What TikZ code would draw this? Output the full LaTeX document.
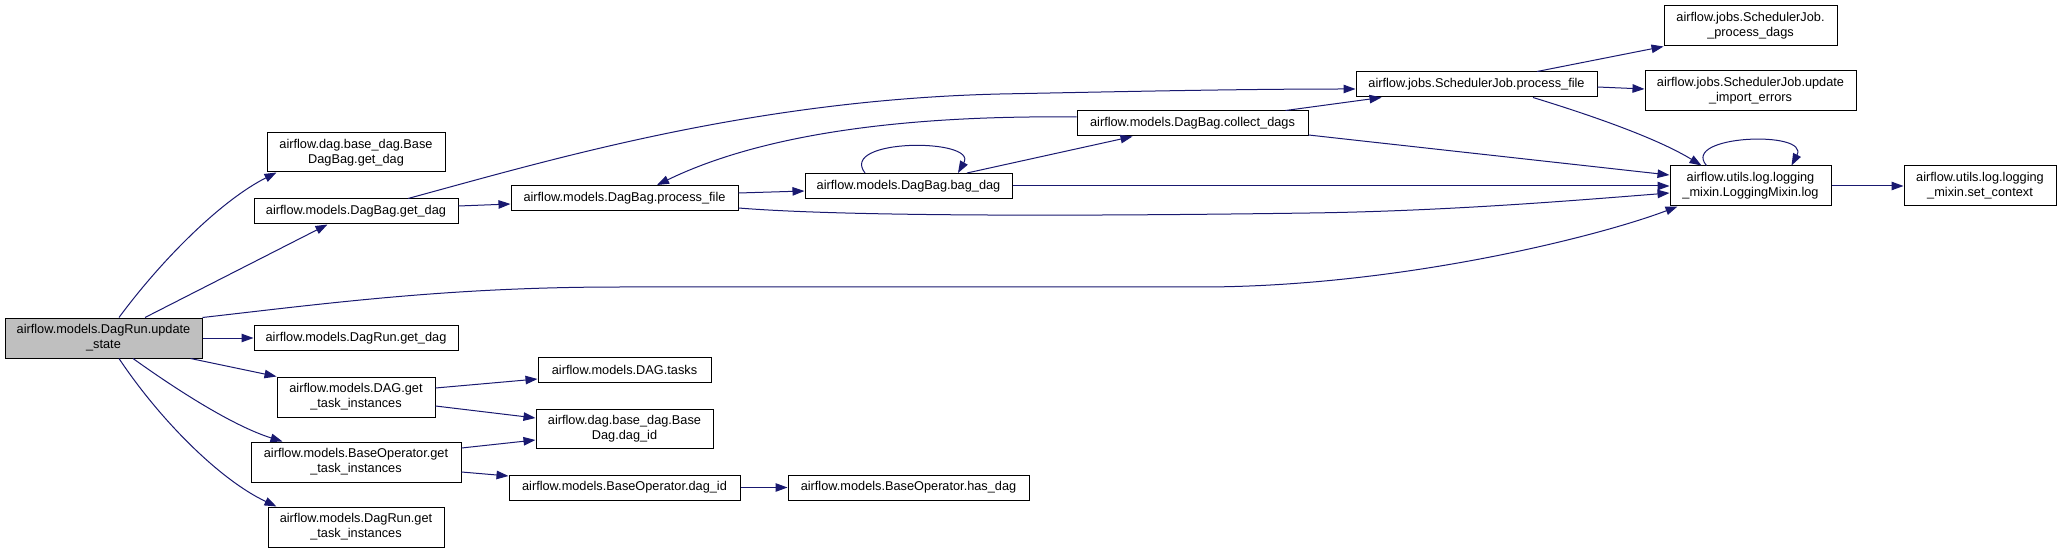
\documentclass[tikz,border=0pt]{standalone}
\usepackage{fontspec}
\setmainfont{Liberation Sans}
\usetikzlibrary{arrows.meta,calc}
\definecolor{edgeblue}{RGB}{25,25,112}
\definecolor{rootgray}{RGB}{191,191,191}
\begin{document}
\begin{tikzpicture}[x=1pt,y=-1pt,
  box/.style={draw=black, line width=1pt, fill=white, inner sep=0pt, align=center,
    font=\fontsize{12.75}{15}\selectfont},
  call/.style={draw=edgeblue, line width=1pt, -{Triangle[length=12pt,width=8.5pt]}}]
\fill[white] (0,0) rectangle (2061,553);
\useasboundingbox (0,0) rectangle (2061,553);

% nodes
\node[box, fill=rootgray, minimum width=197pt, minimum height=40pt] (us) at (103.5,338) {airflow.models.DagRun.update\\\_state};
\node[box, minimum width=178pt, minimum height=39pt] (bdg) at (356,152.5) {airflow.dag.base\_dag.Base\\DagBag.get\_dag};
\node[box, minimum width=204pt, minimum height=25pt] (dbg) at (356,211.5) {airflow.models.DagBag.get\_dag};
\node[box, minimum width=204pt, minimum height=25pt] (drg) at (356,338) {airflow.models.DagRun.get\_dag};
\node[box, minimum width=158pt, minimum height=40pt] (dgti) at (356,397) {airflow.models.DAG.get\\\_task\_instances};
\node[box, minimum width=210pt, minimum height=40pt] (bogti) at (356,462) {airflow.models.BaseOperator.get\\\_task\_instances};
\node[box, minimum width=176pt, minimum height=40pt] (drgti) at (356,527) {airflow.models.DagRun.get\\\_task\_instances};
\node[box, minimum width=227pt, minimum height=25pt] (pf) at (624.5,198) {airflow.models.DagBag.process\_file};
\node[box, minimum width=173pt, minimum height=25pt] (tasks) at (624.5,369.5) {airflow.models.DAG.tasks};
\node[box, minimum width=177pt, minimum height=39pt] (bdid) at (624.5,428.5) {airflow.dag.base\_dag.Base\\Dag.dag\_id};
\node[box, minimum width=231pt, minimum height=25pt] (bodid) at (624.5,487.5) {airflow.models.BaseOperator.dag\_id};
\node[box, minimum width=207pt, minimum height=25pt] (bag) at (908.5,186) {airflow.models.DagBag.bag\_dag};
\node[box, minimum width=241pt, minimum height=25pt] (hasdag) at (908.5,487.5) {airflow.models.BaseOperator.has\_dag};
\node[box, minimum width=231pt, minimum height=25pt] (cd) at (1192.5,123.5) {airflow.models.DagBag.collect\_dags};
\node[box, minimum width=241pt, minimum height=25pt] (sjpf) at (1476.5,84.5) {airflow.jobs.SchedulerJob.process\_file};
\node[box, minimum width=161pt, minimum height=40pt] (log) at (1750.5,186) {airflow.utils.log.logging\\\_mixin.LoggingMixin.log};
\node[box, minimum width=173pt, minimum height=40pt] (pd) at (1750.5,26) {airflow.jobs.SchedulerJob.\\\_process\_dags};
\node[box, minimum width=211pt, minimum height=40pt] (uie) at (1750.5,91) {airflow.jobs.SchedulerJob.update\\\_import\_errors};
\node[box, minimum width=152pt, minimum height=40pt] (sc) at (1980,186) {airflow.utils.log.logging\\\_mixin.set\_context};

% connectors
\draw[call] ($(us.north)+(15.5,0)$) .. controls (163,258) and (222,200) .. ($(bdg.south west)+(10,0)$);
\draw[call] ($(us.north)+(41.5,0)$) -- ($(dbg.south west)+(74,0)$);
\draw[call] (us.north east) .. controls (330,303) and (450,287) .. (620,287) -- (1200,287)
   .. controls (1400,287) and (1600,236) .. ($(log.south west)+(8,0)$);
\draw[call] (us.east) -- (drg.west);
\draw[call] ($(us.south east)+(-12,0)$) -- (dgti.north west);
\draw[call] ($(us.south)+(29.5,0)$) .. controls (170,385) and (230,425) .. ($(bogti.north west)+(32,0)$);
\draw[call] ($(us.south)+(15.5,0)$) .. controls (160,420) and (220,480) .. ($(drgti.north west)+(9,0)$);

\draw[call] ($(dbg.east)+(0,-5.5)$) -- ($(pf.west)+(0,6)$);
\draw[call] ($(dbg.north)+(52,0)$) .. controls (550,160) and (750,100) .. (1000,94)
   .. controls (1150,91) and (1250,89) .. ($(sjpf.west)+(0,4.5)$);

\draw[call] ($(cd.west)+(0,-6.5)$) .. controls (900,115) and (760,135) .. ($(pf.north)+(32.5,0)$);
\draw[call] ($(pf.east)+(0,-5)$) -- ($(bag.west)+(0,5)$);
\draw[call] ($(pf.east)+(0,10)$) .. controls (850,217) and (1100,216) .. (1310,213)
   .. controls (1450,211) and (1580,200) .. ($(log.west)+(0,7)$);

\draw[call] ($(bag.north)+(-43.5,0)$) .. controls (838,138) and (978,138) .. ($(bag.north)+(49.5,0)$);
\draw[call] ($(bag.north)+(58.5,0)$) -- ($(cd.south west)+(56,0)$);
\draw[call] (bag.east) -- (log.west);

\draw[call] ($(cd.north east)+(-23,0)$) -- ($(sjpf.south west)+(26,0)$);
\draw[call] ($(cd.east)+(0,11.5)$) -- ($(log.west)+(0,-11)$);

\draw[call] ($(sjpf.north)+(60.5,0)$) -- (pd.south west);
\draw[call] ($(sjpf.east)+(0,2.5)$) -- ($(uie.west)+(0,-2)$);
\draw[call] ($(sjpf.south)+(56.5,0)$) .. controls (1600,118) and (1660,140) .. ($(log.north west)+(32,0)$);

\draw[call] ($(log.north west)+(37,0)$) .. controls (1680,135) and (1810,130) .. ($(log.north west)+(122,0)$);
\draw[call] (log.east) -- (sc.west);

\draw[call] ($(dgti.east)+(0,-9)$) -- ($(tasks.west)+(0,9.5)$);
\draw[call] ($(dgti.east)+(0,9)$) -- ($(bdid.west)+(0,-10.5)$);
\draw[call] ($(bogti.east)+(0,-14)$) -- ($(bdid.west)+(0,11.5)$);
\draw[call] ($(bogti.east)+(0,10)$) -- ($(bodid.west)+(0,-11.5)$);
\draw[call] (bodid.east) -- (hasdag.west);
\end{tikzpicture}
\end{document}
